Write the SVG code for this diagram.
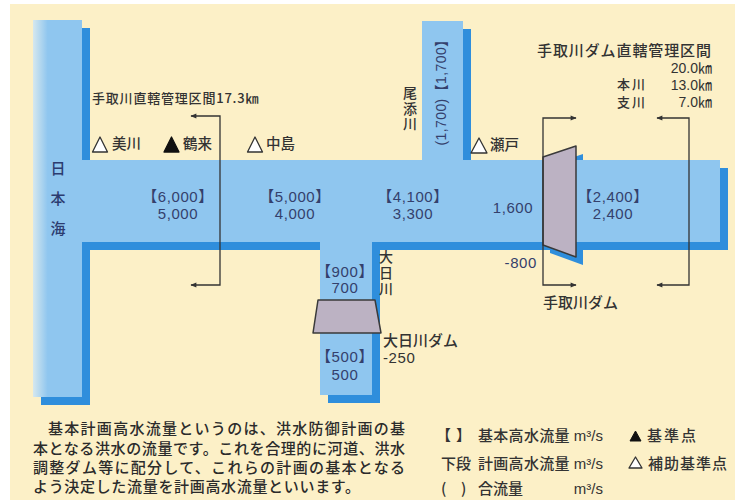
<svg xmlns="http://www.w3.org/2000/svg" width="735" height="504" viewBox="0 0 735 504">
<defs>
<style>
.shadow{fill:#2f8edc}
.water{fill:#8fc6ef}
.dam{fill:#bcb2c3;stroke:#3a3a3a;stroke-width:1.5;stroke-linejoin:round}
.br{fill:none;stroke:#333;stroke-width:1.3}
.num{font-family:"Liberation Sans","Noto Sans CJK JP",sans-serif;font-size:15px;fill:#34406c;letter-spacing:0.6px}
.jp{font-family:"Noto Sans CJK JP",sans-serif;font-size:14.5px;fill:#333;font-weight:500}
.vt{font-family:"Noto Sans CJK JP",sans-serif;font-size:14px;fill:#333;font-weight:500;writing-mode:vertical-rl}
.jpn{font-family:"Noto Sans CJK JP",sans-serif;font-size:15px;fill:#2c3c70;font-weight:500;writing-mode:vertical-rl;letter-spacing:15px}
.lg{font-family:"Noto Sans CJK JP",sans-serif;font-size:15px;fill:#333;font-weight:500}
.unit{font-family:"Liberation Sans",sans-serif;font-size:15px;fill:#333}
.para{font-family:"Noto Sans CJK JP",sans-serif;font-size:15px;fill:#2b2b2b;font-weight:500}
.km{font-family:"Liberation Sans","Noto Sans CJK JP",sans-serif;font-size:14px;fill:#333}
.tw{fill:#fff;stroke:#333;stroke-width:1.3;stroke-linejoin:round}
.tb{fill:#111;stroke:#111;stroke-width:1.3;stroke-linejoin:round}
</style>
<marker id="ah" viewBox="0 0 10 10" refX="9" refY="5" markerWidth="8" markerHeight="6" markerUnits="userSpaceOnUse" orient="auto-start-reverse">
<path d="M0,1 L10,5 L0,9 z" fill="#333"/>
</marker>
<linearGradient id="seaG" x1="0" y1="0" x2="1" y2="0">
<stop offset="0" stop-color="#d6e8ef"/>
<stop offset="0.3" stop-color="#8fc6ef"/>
<stop offset="1" stop-color="#8fc6ef"/>
</linearGradient>
</defs>
<rect x="0" y="0" width="735" height="504" fill="#ffffff"/>
<rect x="10" y="4" width="725" height="496" fill="#fcf0c7"/>

<g id="water-shadow">
<rect class="shadow" x="41" y="28" width="49" height="377"/>
<rect class="shadow" x="90" y="168" width="638" height="82"/>
<rect class="shadow" x="430" y="29" width="41" height="139"/>
<rect class="shadow" x="328" y="250" width="52" height="153"/>
<polygon class="shadow" points="550,165 583,154 583,265 550,253"/>
</g>
<g id="water">
<rect class="water" x="82" y="160" width="638" height="82"/>
<rect class="water" x="422" y="21" width="41" height="142"/>
<rect class="water" x="320" y="238" width="52" height="157"/>
<rect x="33" y="20" width="49" height="377" fill="url(#seaG)"/>
</g>

<g id="dam-ohnichi">
<polygon class="dam" points="318,300 375,300 381,333 313,333"/>
</g>
<g id="dam-tedori">
<polygon class="dam" points="543,157 576,146 576,257 543,245"/>
</g>

<g id="connectors">
<path class="br" d="M191,116 H220 V285 H191" marker-start="url(#ah)" marker-end="url(#ah)"/>
<path class="br" d="M576,118 H543 V285 H576" marker-start="url(#ah)" marker-end="url(#ah)"/>
<path class="br" d="M657,118 H689 V285 H657" marker-start="url(#ah)" marker-end="url(#ah)"/>
</g>

<g id="sea">
<text class="jpn" x="58" y="161">日本海</text>
</g>

<g id="label-tedori-section">
<text class="jp" x="92" y="103" style="font-size:13px;letter-spacing:0.8px">手取川直轄管理区間17.3㎞</text>
</g>

<g id="mikawa">
<polygon class="tw" points="92.5,152 100,137 107.5,152"/>
<text class="jp" x="112" y="148.5">美川</text>
</g>
<g id="tsurugi">
<polygon class="tb" points="164,152 171.5,137 179,152"/>
<text class="jp" x="183" y="148.5">鶴来</text>
</g>
<g id="nakajima">
<polygon class="tw" points="247.5,152 255,137 262.5,152"/>
<text class="jp" x="266" y="148.5">中島</text>
</g>
<g id="seto">
<polygon class="tw" points="471,153 479,138 487,153"/>
<text class="jp" x="490" y="150">瀬戸</text>
</g>

<g id="flow-6000">
<text class="num" x="178" y="202" text-anchor="middle">【6,000】<tspan x="178" y="218.5">5,000</tspan></text>
</g>
<g id="flow-5000">
<text class="num" x="295" y="202" text-anchor="middle">【5,000】<tspan x="295" y="218.5">4,000</tspan></text>
</g>
<g id="flow-4100">
<text class="num" x="413" y="202" text-anchor="middle">【4,100】<tspan x="413" y="218.5">3,300</tspan></text>
</g>
<g id="flow-1600">
<text class="num" x="513" y="212.5" text-anchor="middle">1,600</text>
</g>
<g id="flow-2400">
<text class="num" x="613" y="202" text-anchor="middle">【2,400】<tspan x="613" y="218.5">2,400</tspan></text>
</g>
<g id="flow-minus800">
<text class="num" x="537" y="268" text-anchor="end">-800</text>
</g>

<g id="ozo-river">
<text class="vt" x="410" y="86" style="letter-spacing:1.5px">尾添川</text>
<text class="num" transform="translate(446,89) rotate(-90)" text-anchor="middle" style="font-size:14px;letter-spacing:0.4px">(1,700)【1,700】</text>
</g>

<g id="ohnichi-river">
<text class="vt" x="386" y="250" style="letter-spacing:2px">大日川</text>
<text class="num" x="345" y="277" text-anchor="middle">【900】<tspan x="345" y="292.5">700</tspan></text>
<text class="num" x="345" y="362" text-anchor="middle">【500】<tspan x="345" y="380">500</tspan></text>
<text class="jp" x="383" y="345.5" style="font-size:15px">大日川ダム<tspan x="383" y="362.5" style="font-family:'Liberation Sans',sans-serif;letter-spacing:0.6px">-250</tspan></text>
</g>

<g id="tedori-dam-label">
<text class="jp" x="543" y="307.5" style="font-size:15px">手取川ダム</text>
</g>

<g id="tedori-dam-section">
<text class="jp" x="537" y="55.5" style="font-size:15px;letter-spacing:0.9px">手取川ダム直轄管理区間</text>
<text class="km" x="712" y="73" text-anchor="end">20.0㎞</text>
<text class="jp" x="617" y="89" style="font-size:13px;letter-spacing:2px">本川</text>
<text class="jp" x="617" y="107" style="font-size:13px;letter-spacing:2px">支川</text>
<text class="km" x="712" y="89.5" text-anchor="end">13.0㎞<tspan x="712" y="107">7.0㎞</tspan></text>
</g>

<g id="paragraph">
<text class="para" x="48" y="433.5" textLength="357" lengthAdjust="spacing">基本計画高水流量というのは、洪水防御計画の基</text>
<text class="para" x="33" y="453.5" textLength="372" lengthAdjust="spacing">本となる洪水の流量です。これを合理的に河道、洪水</text>
<text class="para" x="33" y="472.5" textLength="372" lengthAdjust="spacing">調整ダム等に配分して、これらの計画の基本となる</text>
<text class="para" x="33" y="491.5" textLength="327" lengthAdjust="spacing">よう決定した流量を計画高水流量といいます。</text>
</g>

<g id="legend">
<text class="lg" x="436" y="441">【</text>
<text class="lg" x="456" y="441">】</text>
<text class="lg" x="478" y="441" style="letter-spacing:0.3px">基本高水流量</text>
<text class="unit" x="603" y="441" text-anchor="end">m³/s</text>
<text class="lg" x="441" y="468.5">下段</text>
<text class="lg" x="478" y="468.5" style="letter-spacing:0.3px">計画高水流量</text>
<text class="unit" x="603" y="468.5" text-anchor="end">m³/s</text>
<text class="lg" x="441" y="494">(</text>
<text class="lg" x="461" y="494">)</text>
<text class="lg" x="478" y="494">合流量</text>
<text class="unit" x="603" y="494" text-anchor="end">m³/s</text>
<polygon class="tb" points="630,441 635.5,431 641,441" style="stroke-width:1"/>
<text class="lg" x="647" y="441" style="letter-spacing:2px">基準点</text>
<polygon class="tw" points="629,468 635.5,457 642,468"/>
<text class="lg" x="648" y="468.5" style="letter-spacing:1px">補助基準点</text>
</g>
</svg>
